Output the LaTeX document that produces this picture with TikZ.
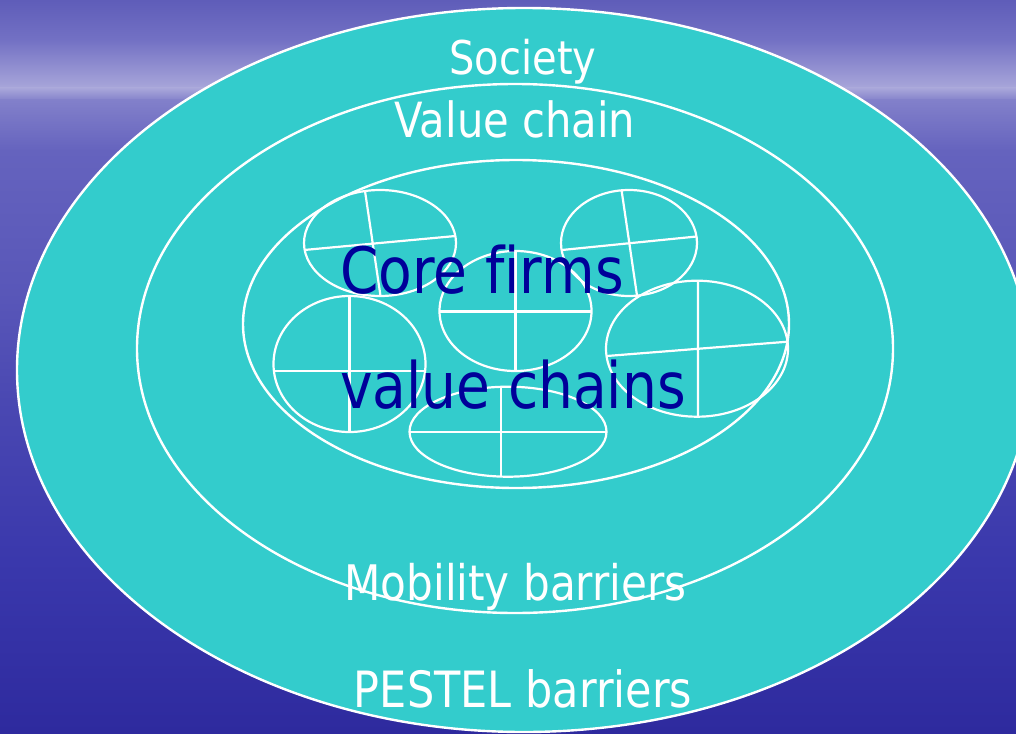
\documentclass[tikz,border=0pt]{standalone}
\usepackage{fontspec}
\newfontfamily\labelfont[FakeStretch=0.86, Ligatures=NoCommon]{DejaVu Sans}
\definecolor{ring}{HTML}{33CCCC}
\definecolor{coretext}{HTML}{000099}
\definecolor{skyA}{HTML}{5F5DB9}
\definecolor{skyB}{HTML}{7371C4}
\definecolor{skyC}{HTML}{A9A7DA}
\definecolor{skyD}{HTML}{8280CA}
\definecolor{skyE}{HTML}{6563BE}
\definecolor{skyF}{HTML}{5856B8}
\definecolor{skyG}{HTML}{4A48B2}
\definecolor{skyH}{HTML}{3A38AC}
\definecolor{skyI}{HTML}{2E2A9E}
\tikzset{
  outline/.style={draw=white, line width=2.4pt},
  cell/.style={draw=white, line width=2.2pt},
  ringlabel/.style={inner sep=0pt, text=white, font=\labelfont\fontsize{#1}{#1}\selectfont},
  corelabel/.style={inner sep=0pt, text=coretext, font=\labelfont\fontsize{64}{70}\selectfont}
}
\begin{document}
\begin{tikzpicture}[x=1pt, y=-1pt]
\useasboundingbox (0,0) rectangle (1016,733);
\begin{scope}
\clip (0,0) rectangle (1016,733);
% sky and sea backdrop, banded vertical gradient
\shade[top color=skyA, bottom color=skyB] (0,0) rectangle (1016,41);
\shade[top color=skyB, bottom color=skyC] (0,40) rectangle (1016,89);
\shade[top color=skyC, bottom color=skyD] (0,88) rectangle (1016,101);
\shade[top color=skyD, bottom color=skyE] (0,100) rectangle (1016,151);
\shade[top color=skyE, bottom color=skyF] (0,150) rectangle (1016,301);
\shade[top color=skyF, bottom color=skyG] (0,300) rectangle (1016,401);
\shade[top color=skyG, bottom color=skyH] (0,400) rectangle (1016,561);
\shade[top color=skyH, bottom color=skyI] (0,560) rectangle (1016,733);

% nested rings
\fill[ring] (524,370) ellipse [x radius=507, y radius=362];
\draw[outline] (524,370) ellipse [x radius=507, y radius=362];
\draw[outline] (515,348.5) ellipse [x radius=378, y radius=264.5];
\draw[outline] (516,324) ellipse [x radius=273, y radius=164];
\end{scope}

% core firms, each split into four cells
\draw[cell] (380,243) ellipse [x radius=76, y radius=53];
\draw[cell] (365,191) -- (380.5,296) (304,250) -- (455.5,236);

\draw[cell] (629,243) ellipse [x radius=68, y radius=53];
\draw[cell] (621.6,190.5) -- (637,295.5) (562,250) -- (696.5,236.5);

\draw[cell] (515.5,311) ellipse [x radius=76, y radius=60];
\draw[cell] (515.5,251) -- (515.5,371) (439.5,311.5) -- (591.5,311.5);

\draw[cell] (349.5,364) ellipse [x radius=76, y radius=68];
\draw[cell] (349.5,296) -- (349.5,432) (274,371) -- (425,371);

\draw[cell] (697,348.7) ellipse [x radius=91, y radius=68];
\draw[cell] (698,281) -- (698,416.5) (606.8,356) -- (787.5,341.7);

\draw[cell] (508,431.7) ellipse [x radius=98.5, y radius=45];
\draw[cell] (501,386.8) -- (501,476.6) (409.5,432.3) -- (606.5,432.3);

% labels
\node[ringlabel=46.5, anchor=base] (society) at (523,75) {Society};
\node[ringlabel=48.5, anchor=base] (valuechain) at (515,137) {Value chain};
\node[corelabel, anchor=base west] (core1) at (340,293) {Core f\kern0pt{}irms};
\node[corelabel, anchor=base west] (core2) at (340,408) {value chains};
\node[ringlabel=49, anchor=base] (mobility) at (515.5,600) {Mobility barriers};
\node[ringlabel=50, anchor=base] (pestel) at (523,707) {PESTEL barriers};
\end{tikzpicture}
\end{document}
